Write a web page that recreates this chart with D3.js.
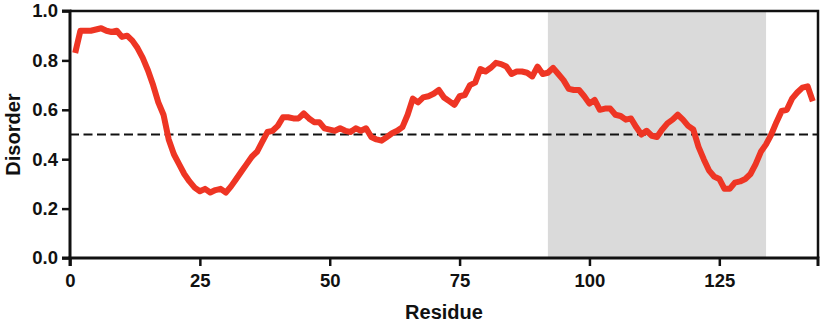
<!DOCTYPE html>
<html><head><meta charset="utf-8">
<script src="https://cdn.jsdelivr.net/npm/d3@7"></script>
<style>body{margin:0;background:#fff}svg{display:block}text{font-family:"Liberation Sans",Arial,sans-serif;font-weight:bold;fill:#111}</style>
</head><body>
<svg id="c" width="825" height="322"></svg>
<script>
const residues = d3.range(1, 144);
const disorder = [0.83,0.92,0.92,0.92,0.925,0.93,0.92,0.915,0.92,0.895,
0.90,0.88,0.85,0.81,0.76,0.70,0.63,0.58,0.48,0.42,
0.38,0.34,0.31,0.285,0.27,0.28,0.265,0.275,0.28,0.265,
0.29,0.32,0.35,0.38,0.41,0.43,0.47,0.51,0.515,0.535,
0.57,0.57,0.565,0.565,0.585,0.565,0.55,0.55,0.525,0.52,
0.515,0.525,0.515,0.51,0.525,0.515,0.525,0.49,0.48,0.475,
0.49,0.505,0.515,0.53,0.58,0.645,0.63,0.65,0.655,0.665,
0.68,0.65,0.635,0.62,0.655,0.66,0.70,0.71,0.765,0.755,
0.77,0.79,0.785,0.775,0.745,0.755,0.755,0.75,0.735,0.775,
0.745,0.75,0.77,0.745,0.72,0.685,0.68,0.68,0.655,0.625,
0.64,0.60,0.605,0.605,0.58,0.575,0.56,0.565,0.53,0.50,
0.515,0.495,0.49,0.52,0.545,0.56,0.58,0.56,0.535,0.52,
0.45,0.40,0.355,0.33,0.32,0.28,0.28,0.305,0.31,0.32,
0.34,0.38,0.43,0.46,0.50,0.55,0.595,0.60,0.645,0.67,
0.69,0.695,0.635];
const xTicks = [0,25,50,75,100,125];
const yTicks = [0,0.2,0.4,0.6,0.8,1.0];
const shadedRegion = [92,134];
const threshold = [0.5];
const xLabel = "Residue", yLabel = "Disorder";

const svg = d3.select("#c");
const L=70, R=818, T=11, B=258;
const x = d3.scaleLinear().domain([0,144]).range([L,R]);
const y = d3.scaleLinear().domain([0,1]).range([B,T]);

svg.append("rect").attr("x",x(shadedRegion[0])).attr("y",T).attr("width",x(shadedRegion[1])-x(shadedRegion[0])).attr("height",B-T).attr("fill","#dadada");

svg.selectAll(".thr").data(threshold).enter().append("line")
 .attr("x1",L).attr("x2",R).attr("y1",d=>y(d)).attr("y2",d=>y(d))
 .attr("stroke","#111").attr("stroke-width",2.2).attr("stroke-dasharray","9,4.5");

const line = d3.line().x((d,i)=>x(residues[i])).y(d=>y(d));
svg.append("path").datum(disorder).attr("d",line).attr("fill","none")
 .attr("stroke","#ee3524").attr("stroke-width",6).attr("stroke-linejoin","round");

// frame top/right
svg.append("path").attr("d",`M${L},${T}H${R}V${B}`).attr("fill","none").attr("stroke","#111").attr("stroke-width",2.5);

const xa = svg.append("g").attr("transform",`translate(0,${B})`)
 .call(d3.axisBottom(x).tickValues(xTicks).tickFormat(d3.format("d")).tickSize(8).tickPadding(8));
const ya = svg.append("g").attr("transform",`translate(${L},0)`)
 .call(d3.axisLeft(y).tickValues(yTicks).tickFormat(d3.format(".1f")).tickSize(8).tickPadding(4));
[xa,ya].forEach(g=>{
 g.select(".domain").attr("stroke","#111").attr("stroke-width",3);
 g.selectAll(".tick line").attr("stroke","#111").attr("stroke-width",2.5);
 g.selectAll(".tick text").attr("font-size",18.5).attr("fill","#111").attr("font-family","Liberation Sans, Arial, sans-serif").attr("font-weight","bold");
});
ya.select(".domain").attr("d",`M-8,${B}H0V${T}H-8`);
xa.select(".domain").attr("d",`M${L},8V0H${R}V8`);

svg.append("text").attr("x",(L+R)/2).attr("y",319).attr("text-anchor","middle").attr("font-size",20).text(xLabel);
svg.append("text").attr("transform",`translate(20,${(T+B)/2}) rotate(-90)`).attr("text-anchor","middle").attr("font-size",20).text(yLabel);
</script>
</body></html>
